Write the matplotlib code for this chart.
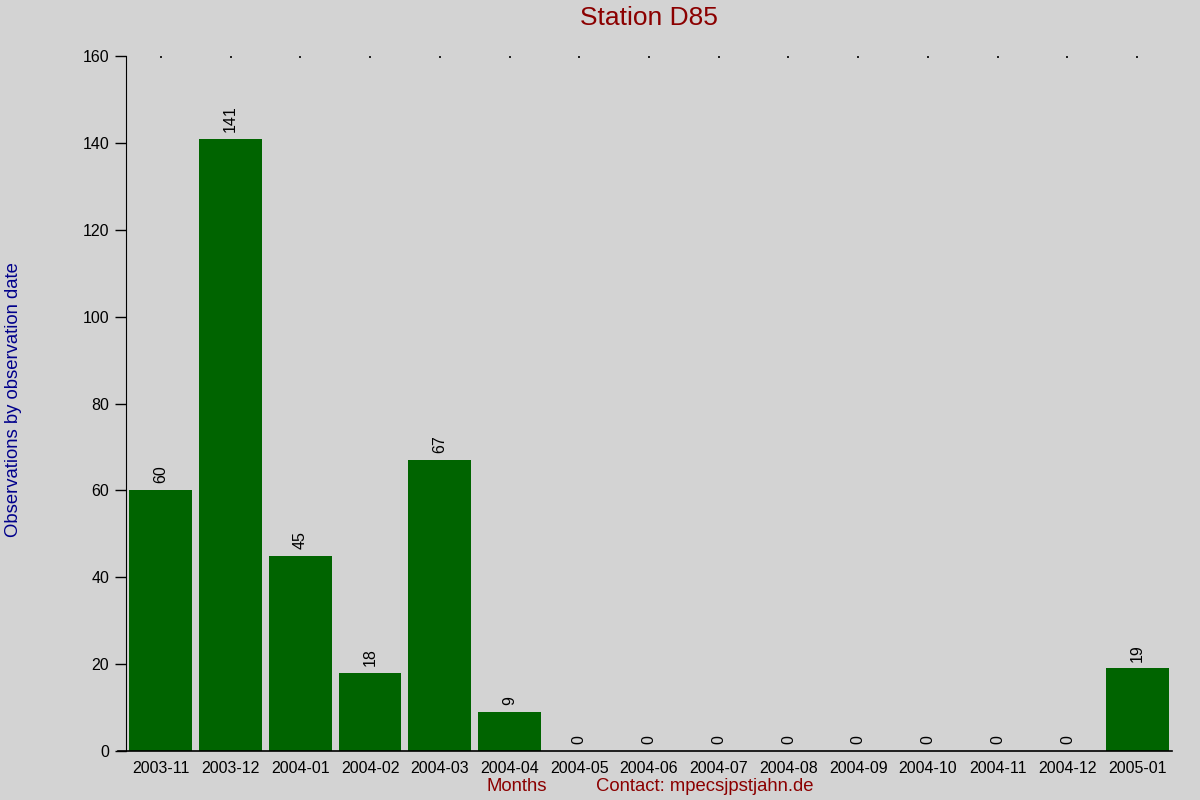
import matplotlib
matplotlib.use("Agg")
import matplotlib.pyplot as plt
from matplotlib.lines import Line2D

plt.rcParams['font.family'] = ['Liberation Sans', 'DejaVu Sans']

months = ["2003-11", "2003-12", "2004-01", "2004-02", "2004-03", "2004-04",
          "2004-05", "2004-06", "2004-07", "2004-08", "2004-09", "2004-10",
          "2004-11", "2004-12", "2005-01"]
counts = [60, 141, 45, 18, 67, 9, 0, 0, 0, 0, 0, 0, 0, 0, 19]
yticks = [0, 20, 40, 60, 80, 100, 120, 140, 160]

bg = "#d3d3d3"
fig = plt.figure(figsize=(12, 8), dpi=100, facecolor=bg)
ax = fig.add_axes([0.105, 0.06125, 0.8717, 0.86875], facecolor=bg)

x = list(range(len(months)))
ax.bar(x, counts, width=0.9, color="#006400")
for xi, c in zip(x, counts):
    ax.annotate(str(c), (xi, c), xytext=(0, 5), textcoords="offset points",
                rotation=90, ha="center", va="bottom", fontsize=11.5)

ax.set_xlim(-0.5, len(months) - 0.5)
ax.set_ylim(0, 160)
ax.set_yticks(yticks)
ax.set_xticks(x)
ax.set_xticklabels(months)
ax.tick_params(axis="x", bottom=False, top=True, direction="in", length=1.2,
               width=1.2, pad=7, labelsize=11.5)
ax.tick_params(axis="y", length=8, width=1, pad=4, labelsize=11.5)

for s in ["top", "right"]:
    ax.spines[s].set_visible(False)
ax.spines["bottom"].set_visible(False)
ax.add_line(Line2D([-0.0077, 1], [0, 0], transform=ax.transAxes,
                   color="black", lw=1.2, clip_on=False))

fig.text(0.541, 0.977, "Station D85", color="#8b0000", fontsize=19,
         ha="center", va="center")
fig.text(0.011, 0.5, "Observations by observation date", color="#00008b",
         fontsize=13.3, rotation=90, ha="center", va="center")
fig.text(0.431, 0.017, "Months", color="#8b0000", fontsize=13.3,
         ha="center", va="center")
fig.text(0.587, 0.017, "Contact: mpecsjpstjahn.de", color="#8b0000",
         fontsize=13.3, ha="center", va="center")

fig.savefig("out.png", dpi=100, facecolor=bg)
